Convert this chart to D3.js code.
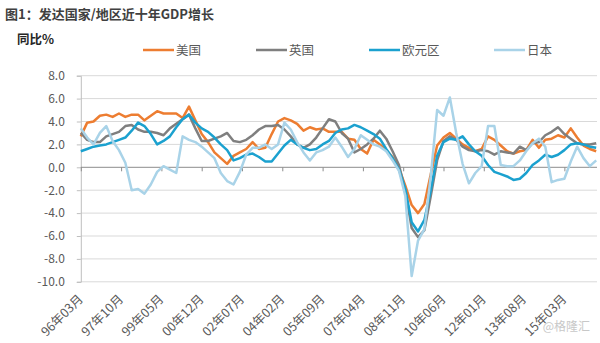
<!DOCTYPE html>
<html>
<head>
<meta charset="utf-8">
<script src="https://cdnjs.cloudflare.com/ajax/libs/d3/7.8.5/d3.min.js"></script>
<style>
  body { margin: 0; background: #fff; }
  text { font-family: "Noto Sans CJK SC", "Noto Sans", sans-serif; }
</style>
</head>
<body>
<svg id="chart" width="600" height="343"></svg>
<script>
// 季度同比增速，1996Q1 起
var usData = [2.7,3.9,4.0,4.5,4.6,4.4,4.7,4.4,4.6,4.6, 4.1,4.5,4.9,4.7,4.7,4.7,4.3,5.3,4.1,2.9,
  2.2,1.3,0.8,0.3,1.0,1.3,1.6,2.2,1.6,1.7, 2.9,4.0,4.3,4.1,3.8,3.2,3.5,3.3,3.4,3.1,
  3.1,3.1,2.5,2.4,1.6,1.2,2.4,2.0,1.5,0.9, -0.1,-1.6,-3.3,-4.0,-3.2,-0.6,1.9,2.6,3.0,2.5,
  2.0,1.7,1.4,1.6,2.7,2.4,1.9,1.4,1.2,1.4, 1.5,2.4,1.7,2.4,2.5,2.8,2.6,3.4,2.6,1.9, 1.6,1.4];
var ukData = [3.0,2.4,2.2,2.2,2.7,2.9,3.1,3.6,3.7,3.3, 3.1,3.1,3.0,2.8,3.4,3.8,4.2,4.6,3.4,2.3,
  2.3,2.5,2.7,3.0,2.3,2.2,2.4,2.8,3.3,3.6, 3.6,3.7,3.3,2.7,2.0,1.7,2.0,2.6,3.4,4.2,
  4.0,3.0,2.5,1.3,1.6,2.0,2.5,3.2,2.5,1.4, 0.2,-2.0,-5.3,-6.1,-5.5,-2.5,0.6,2.3,2.7,2.4,
  1.8,1.5,1.4,1.5,1.4,1.1,1.4,1.3,1.2,1.8, 1.5,2.1,2.2,2.8,3.1,3.5,2.9,2.5,2.1,2.0, 2.0,2.1];
var euroData = [1.4,1.6,1.8,1.9,2.0,2.2,2.4,2.6,3.2,3.9, 3.6,2.9,2.0,2.3,2.7,3.5,4.2,4.6,3.9,3.4,
  3.1,2.6,2.0,1.5,0.6,0.8,1.1,1.2,0.9,0.5, 0.5,1.2,1.9,2.4,2.0,1.7,1.5,1.6,2.0,2.3,
  3.0,3.3,3.4,3.7,3.5,3.2,2.9,2.5,1.6,0.8, -0.2,-1.9,-4.8,-5.6,-4.6,-2.0,1.0,2.2,2.5,2.4,
  2.7,2.0,1.4,1.0,0.2,-0.4,-0.6,-0.8,-1.1,-1.0, -0.5,0.2,0.6,1.1,0.9,1.1,1.5,2.0,2.1,2.0, 1.8,1.7];
var japanData = [3.4,2.6,2.0,3.0,3.6,2.3,1.5,0.4,-2.0,-1.9, -2.3,-1.5,-0.4,0.1,-0.2,-0.5,2.7,2.4,2.2,1.8,
  1.3,0.8,-0.5,-1.2,-1.5,-0.4,1.1,1.7,1.7,2.0, 1.6,2.0,3.9,3.3,2.2,1.3,0.6,1.3,1.5,1.8,
  2.6,1.8,0.9,1.6,2.8,2.4,2.0,1.8,1.4,0.6, -0.3,-2.5,-9.5,-6.4,-5.4,-0.8,5.0,4.5,6.1,3.0,
  0.3,-1.4,-0.5,0.1,3.6,3.6,0.2,0.1,0.1,0.6, 1.4,2.1,2.5,1.8,-1.3,-1.1,-1.0,0.5,1.8,0.8, 0.1,0.6];

var seriesNames = ["美国", "英国", "欧元区", "日本"];
var seriesColors = ["#ED7D31", "#7F7F7F", "#1BA1CF", "#A9D3E8"];
var tickLabels = ["96年03月","97年10月","99年05月","00年12月","02年07月","04年02月","05年09月",
  "07年04月","08年11月","10年06月","12年01月","13年08月","15年03月"];
var yTicks = [-10, -8, -6, -4, -2, 0, 2, 4, 6, 8];

var svg = d3.select("#chart");
var plotLeft = 80.8, plotRight = 597, plotTop = 75.7, plotBottom = 281.8;
var labelStep = 19; // 月

var x = d3.scaleLinear().domain([0, 243]).range([plotLeft, plotLeft + 243 * 2.121]);
var y = d3.scaleLinear().domain([-10, 8]).range([plotBottom, plotTop]);

// 标题
svg.append("text").attr("x", 5).attr("y", 19)
  .attr("font-size", 13).attr("font-weight", "bold").attr("fill", "#404040")
  .text("图1：发达国家/地区近十年GDP增长");
svg.append("text").attr("x", 17).attr("y", 44)
  .attr("font-size", 12.5).attr("font-weight", "bold").attr("fill", "#262626")
  .text("同比%");

// 网格线
svg.append("g").selectAll("line").data(yTicks.filter(d => d !== 0)).join("line")
  .attr("x1", plotLeft).attr("x2", plotRight)
  .attr("y1", d => y(d)).attr("y2", d => y(d))
  .attr("stroke", "#d9d9d9").attr("stroke-width", 1);

// y轴
var yAxis = d3.axisLeft(y).tickValues(yTicks).tickSize(4).tickPadding(12)
  .tickFormat(d => d.toFixed(1));
var yAxisG = svg.append("g").attr("transform", `translate(${plotLeft},0)`).call(yAxis);
yAxisG.select(".domain").attr("stroke", "#bfbfbf");
yAxisG.selectAll(".tick line").attr("stroke", "#bfbfbf");
yAxisG.selectAll("text").attr("font-size", 12).attr("fill", "#595959")
  .attr("font-family", "'Noto Sans', sans-serif");

// 零线和刻度
var tickMonths = tickLabels.map((d, i) => i * labelStep);
var xAxis = d3.axisBottom(x).tickValues(tickMonths).tickSize(4).tickFormat("");
var xAxisG = svg.append("g").attr("transform", `translate(0,${y(0)})`).call(xAxis);
xAxisG.select(".domain").remove();
xAxisG.selectAll(".tick line").attr("stroke", "#8c8c8c");
svg.append("line").attr("x1", plotLeft).attr("x2", plotRight)
  .attr("y1", y(0)).attr("y2", y(0)).attr("stroke", "#8c8c8c").attr("stroke-width", 1);

// x轴标签
svg.append("g").selectAll("text").data(tickLabels).join("text")
  .attr("transform", (d, i) => `translate(${x(tickMonths[i]) + 3},${plotBottom + 18}) rotate(-45)`)
  .attr("text-anchor", "end")
  .attr("font-size", 12.5).attr("fill", "#595959")
  .text(d => d);

// 折线
var allSeries = [usData, ukData, euroData, japanData];
var line = d3.line().x((d, i) => x(i * 3)).y(d => y(d));
svg.append("g").selectAll("path").data(allSeries).join("path")
  .attr("d", d => line(d))
  .attr("fill", "none")
  .attr("stroke", (d, i) => seriesColors[i])
  .attr("stroke-width", 2.5)
  .attr("stroke-linejoin", "round");

// 图例
var legendX = [143, 256, 369, 494];
var legend = svg.append("g").selectAll("g").data(seriesNames).join("g")
  .attr("transform", (d, i) => `translate(${legendX[i]},50)`);
legend.append("line").attr("x1", 0).attr("x2", 31)
  .attr("stroke", (d, i) => seriesColors[i]).attr("stroke-width", 2.5);
legend.append("text").attr("x", 33).attr("y", 5)
  .attr("font-size", 12.5).attr("fill", "#595959").text(d => d);

// 水印
svg.append("text").attr("x", 590).attr("y", 331).attr("text-anchor", "end")
  .attr("font-size", 12).attr("fill", "#c8c8c8").text("@格隆汇");
</script>
</body>
</html>
